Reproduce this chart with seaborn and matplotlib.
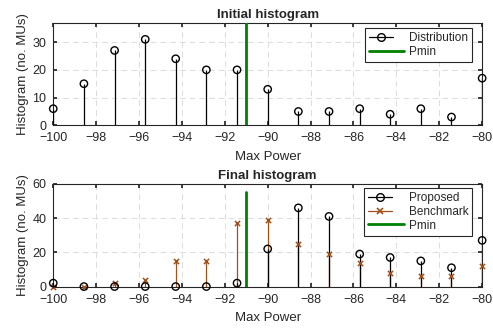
import numpy as np
import pandas as pd
import seaborn as sns
import matplotlib.pyplot as plt
from matplotlib.lines import Line2D
from matplotlib.legend_handler import HandlerLine2D

# data
max_power = [-100.0, -98.57, -97.14, -95.71, -94.29, -92.86, -91.43, -90.0,
             -88.57, -87.14, -85.71, -84.29, -82.86, -81.43, -80.0]
initial_counts = [6, 15, 27, 31, 24, 20, 20, 13, 5, 5, 6, 4, 6, 3, 17]
proposed_counts = [2, 0, 0, 0, 0, 0, 2, 22, 46, 41, 19, 17, 15, 11, 27]
benchmark_counts = [0, 0, 2, 4, 15, 15, 37, 39, 25, 19, 14, 8, 6, 6, 12]
pmin = -91
xticks = [-100, -98, -96, -94, -92, -90, -88, -86, -84, -82, -80]

df = pd.DataFrame({"power": max_power, "initial": initial_counts,
                   "proposed": proposed_counts, "benchmark": benchmark_counts})

sns.set_theme(style="whitegrid")
plt.rcParams['font.family'] = ['Liberation Sans', 'DejaVu Sans']

BROWN = "#a24f18"
GREEN = "#008000"
DARK = "#262626"


class StemHandler(HandlerLine2D):
    # MATLAB-like legend entry: line stops at a marker near the right end
    def get_xdata(self, legend, xdescent, ydescent, width, height, fontsize):
        xm = -xdescent + 0.68 * width
        return np.array([-xdescent, xm]), np.array([xm])


fig = plt.figure(figsize=(4.93, 3.29), dpi=100)
ax1 = fig.add_axes([0.108, 0.619, 0.870, 0.312])
ax2 = fig.add_axes([0.108, 0.129, 0.870, 0.312])


def style_axis(ax, ylim, yticks):
    ax.set_xlim(-100, -80)
    ax.set_ylim(*ylim)
    ax.set_xticks(xticks)
    ax.set_yticks(yticks)
    ax.grid(True, color="#dcdcdc", linestyle=(0, (6, 4)), linewidth=0.7)
    ax.tick_params(direction="in", length=3, labelsize=9, colors=DARK,
                   top=True, right=True, bottom=True, left=True, pad=5)
    for s in ax.spines.values():
        s.set_color(DARK)
        s.set_linewidth(0.8)
    ax.set_facecolor("white")
    ax.set_xlabel("Max Power", fontsize=9.5, labelpad=4.5, color=DARK)
    ax.set_ylabel("Histogram (no. MUs)", fontsize=9.5, labelpad=2.5, color=DARK)


def stems(ax, x, y, color, marker, size, lw_mark):
    ax.vlines(x, 0, y, color=color, linewidth=0.9, zorder=3)
    sns.scatterplot(x=x, y=y, ax=ax, marker=marker, s=size,
                    facecolor="none" if marker == "o" else color,
                    edgecolor=color, linewidth=lw_mark, zorder=4,
                    clip_on=False, legend=False)


def add_legend(ax, handles, labels, anchor):
    hmap = {h: StemHandler() for h in handles if h.get_marker() not in ("None", None, "")}
    leg = ax.legend(handles, labels, handler_map=hmap, loc="upper right",
                    fontsize=8.5, fancybox=False, framealpha=1, edgecolor=DARK,
                    borderpad=0.35, labelspacing=0.15, handlelength=3.0,
                    handletextpad=0.4, borderaxespad=0, bbox_to_anchor=anchor)
    leg.get_frame().set_linewidth(0.8)


# --- top: initial ---
style_axis(ax1, (0, 37), [0, 10, 20, 30])
stems(ax1, df["power"], df["initial"], "black", "o", 28, 1.0)
ax1.plot([pmin, pmin], [0, 37], color=GREEN, linewidth=2, zorder=5)
ax1.set_title("Initial histogram", fontsize=9.5, fontweight="bold", pad=3.5)
h1 = [Line2D([0], [0], color="black", lw=0.9, marker="o", markerfacecolor="none",
             markersize=5.5),
      Line2D([0], [0], color=GREEN, lw=2)]
add_legend(ax1, h1, ["Distribution", "Pmin"], (0.977, 0.948))

# --- bottom: final ---
style_axis(ax2, (0, 60), [0, 20, 40, 60])
stems(ax2, df["power"], df["benchmark"], BROWN, "x", 14, 1.1)
stems(ax2, df["power"], df["proposed"], "black", "o", 28, 1.0)
ax2.plot([pmin, pmin], [0, 55], color=GREEN, linewidth=2, zorder=5)
ax2.set_title("Final histogram", fontsize=9.5, fontweight="bold", pad=3.5)
h2 = [Line2D([0], [0], color="black", lw=0.9, marker="o", markerfacecolor="none",
             markersize=5.5),
      Line2D([0], [0], color=BROWN, lw=0.9, marker="x", markersize=4, markeredgewidth=1.2),
      Line2D([0], [0], color=GREEN, lw=2)]
add_legend(ax2, h2, ["Proposed", "Benchmark", "Pmin"], (0.977, 0.961))

plt.savefig("out.png", dpi=100)
